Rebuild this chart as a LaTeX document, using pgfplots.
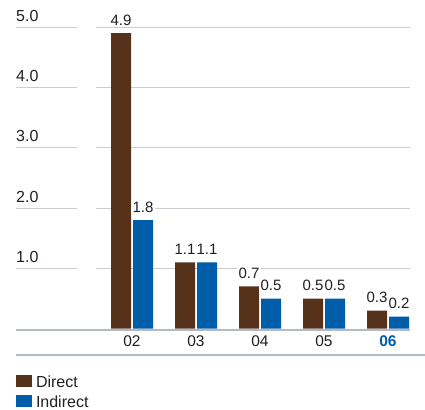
\documentclass[border=0pt]{standalone}
\usepackage{pgfplots}
\pgfplotsset{compat=1.18}
\usepackage{fontspec}
\setmainfont{Liberation Sans}
\usetikzlibrary{calc}

\definecolor{direct}{HTML}{56321B}
\definecolor{indirect}{HTML}{005DAA}
\definecolor{gridc}{HTML}{C9CED3}
\definecolor{basec}{HTML}{B3BAC1}
\definecolor{txt}{HTML}{231F20}

\pgfkeys{/pgf/number format/assume math mode=true}

\begin{document}
\begin{tikzpicture}
\begin{axis}[
  name=ax,
  scale only axis,
  width=394bp, height=301.5bp,
  xmin=-1.8125, xmax=4.34375,
  ymin=0, ymax=5,
  clip=false,
  axis line style={draw=none},
  major tick length=0pt,
  ybar=2bp,
  bar width=20bp,
  xtick={0,1,2,3,4},
  xticklabels={02,03,04,05,{\textcolor{indirect}{\bfseries 06}}},
  xticklabel style={anchor=base, yshift=-18bp, font=\fontsize{15.5bp}{18bp}\selectfont, text=txt},
  ytick={1,2,3,4,5},
  yticklabel style={anchor=base west, inner xsep=0pt, yshift=6bp,
    font=\fontsize{16bp}{19bp}\selectfont, text=txt,
    /pgf/number format/fixed, /pgf/number format/fixed zerofill,
    /pgf/number format/precision=1},
  nodes near coords={\pgfmathprintnumber[fixed,fixed zerofill,precision=1]{\pgfplotspointmeta}},
  every node near coord/.append style={anchor=base, yshift=8bp, fill=white,
    inner xsep=1.5bp, inner ysep=1.5bp, text=txt,
    font=\fontsize{15bp}{18bp}\selectfont},
  legend image code/.code={\fill[#1] (0bp,0bp) rectangle (16bp,12.3bp);},
  legend style={at={(rel axis cs:0,0)}, anchor=north west, yshift=-46.3bp,
    draw=none, fill=none, inner sep=0pt, outer sep=0pt,
    row sep=6bp, column sep=4bp,
    nodes={anchor=base west, inner sep=0pt, text=txt,
      font=\fontsize{16bp}{19bp}\selectfont}},
  legend cell align=left,
]
% horizontal rules, interrupted near the value scale
\pgfplotsinvokeforeach{1,2,3,4,5}{
  \draw[gridc, line width=1.2bp] (axis cs:-1.8125,#1) -- (axis cs:-0.859,#1);
  \draw[gridc, line width=1.2bp] (axis cs:-0.5625,#1) -- (axis cs:4.34375,#1);
}
\addplot[fill=direct, draw=none] coordinates {(0,4.9) (1,1.1) (2,0.7) (3,0.5) (4,0.3)};
\addplot[fill=indirect, draw=none] coordinates {(0,1.8) (1,1.1) (2,0.5) (3,0.5) (4,0.2)};
\legend{Direct,Indirect}
% zero line under the bars
\draw[basec, line width=2bp] ([yshift=-1bp]axis cs:-1.8125,0) -- ([yshift=-1bp]axis cs:4.34375,0);
\end{axis}
% rule below the category labels
\draw[basec, line width=2bp] ([yshift=-26.3bp]ax.south west) -- ++(409bp,0);
\pgfresetboundingbox
\path ([shift={(-16bp,-81.3bp)}]ax.south west) rectangle ([shift={(409bp,328.7bp)}]ax.south west);
\end{tikzpicture}
\end{document}
